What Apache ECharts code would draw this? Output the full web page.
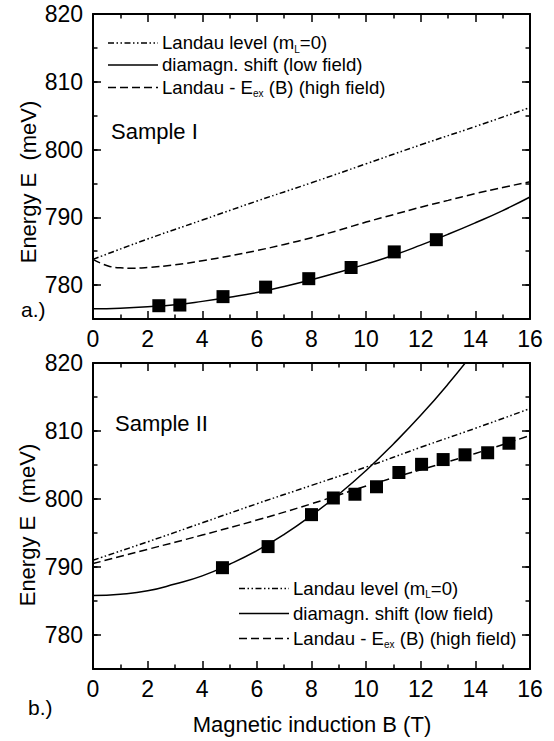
<!DOCTYPE html>
<html><head><meta charset="utf-8">
<script src="https://cdn.jsdelivr.net/npm/echarts@6/dist/echarts.min.js"></script>
<style>html,body{margin:0;padding:0;background:#fff}#c{width:554px;height:741px}</style>
</head><body><div id="c"></div>
<script>
// ---------- data ----------
const bTickLabels = [0, 2, 4, 6, 8, 10, 12, 14, 16];
const energyTickLabels = [780, 790, 800, 810, 820];

// Sample I (panel a)
const s1PointsB = [2.41, 3.18, 4.76, 6.32, 7.90, 9.45, 11.03, 12.57];
const s1PointsE = [776.96, 777.06, 778.3, 779.7, 780.95, 782.6, 784.9, 786.7];
const s1LandauB = [0, 2, 4, 6, 8, 10, 12, 14, 16];
const s1LandauE = [783.8, 786.8, 789.6, 792.4, 795.1, 797.9, 800.7, 803.4, 806.2];
const s1DiamagB = [0, 1, 2, 3, 4, 5, 6, 7, 8, 9, 10, 11, 12, 13, 14, 15, 16];
const s1DiamagE = [776.5, 776.6, 776.8, 777.1, 777.6, 778.2, 778.9, 779.8, 780.8, 781.9, 783.1, 784.4, 785.9, 787.5, 789.2, 791.0, 793.0];
const s1ExcB = [0, 0.5, 1, 1.5, 2, 3, 4, 5, 6, 7, 8, 9, 10, 11, 12, 13, 14, 15, 16];
const s1ExcE = [783.8, 782.9, 782.55, 782.5, 782.6, 783.0, 783.6, 784.3, 785.1, 786.0, 787.0, 788.1, 789.3, 790.4, 791.5, 792.5, 793.5, 794.4, 795.25];

// Sample II (panel b)
const s2PointsB = [4.74, 6.41, 8.0, 8.8, 9.59, 10.38, 11.2, 12.03, 12.82, 13.62, 14.45, 15.23];
const s2PointsE = [789.9, 793.0, 797.7, 800.15, 800.7, 801.8, 803.9, 805.1, 805.8, 806.5, 806.8, 808.2];
const s2LandauB = [0, 2, 4, 6, 8, 10, 12, 14, 16];
const s2LandauE = [791.0, 793.7, 796.5, 799.3, 802.0, 804.7, 807.6, 810.4, 813.3];
const s2DiamagB = [0, 1, 2, 3, 4, 5, 6, 7, 8, 9, 10, 11, 12, 13, 14];
const s2DiamagE = [785.8, 786.0, 786.5, 787.5, 788.7, 790.4, 792.4, 794.8, 797.6, 800.7, 804.2, 808.1, 812.3, 816.9, 821.9];
const s2ExcB = [0, 2, 4, 6, 8, 10, 12, 14, 16];
const s2ExcE = [790.5, 792.6, 794.7, 796.9, 799.3, 801.9, 804.3, 806.7, 809.35];

// ---------- chart ----------
const FONT = '"Liberation Sans", Arial, Helvetica, sans-serif';
const pairs = (xs, ys) => xs.map((x, i) => [x, ys[i]]);
const DASHDOT = [6, 2.5, 1.5, 2.5, 1.5, 2.5];
const DASHED = [8, 4];

function xAxes(gi) {
  const base = {
    gridIndex: gi, type: 'value', min: bTickLabels[0], max: bTickLabels[bTickLabels.length - 1], interval: 2,
    axisLine: { show: true, onZero: false, lineStyle: { color: '#000', width: 2 } },
    axisTick: { show: true, inside: true, length: 8, lineStyle: { color: '#000', width: 1.5 } },
    minorTick: { show: true, splitNumber: 2, length: 4.5, lineStyle: { color: '#000', width: 1.5 } },
    splitLine: { show: false }, minorSplitLine: { show: false }
  };
  return [
    Object.assign({}, base, { position: 'bottom',
      axisLabel: { show: true, margin: 8, color: '#000', fontSize: 23, fontFamily: FONT } }),
    Object.assign({}, base, { position: 'top', axisLabel: { show: false } })
  ];
}
function yAxes(gi) {
  const base = {
    gridIndex: gi, type: 'value', min: 775, max: 820, interval: 5,
    splitLine: { show: false }
  };
  const axes = [];
  ['left', 'right'].forEach(pos => {
    axes.push(Object.assign({}, base, {
      position: pos,
      axisLine: { show: true, onZero: false, lineStyle: { color: '#000', width: 2 } },
      axisTick: { show: true, inside: true, length: 4.5, lineStyle: { color: '#000', width: 1.5 } },
      axisLabel: pos === 'left' ? {
        show: true, margin: 10, color: '#000', fontSize: 23, fontFamily: FONT,
        formatter: v => (energyTickLabels.indexOf(v) >= 0 ? String(v) : '')
      } : { show: false }
    }));
    axes.push(Object.assign({}, base, {
      position: pos,
      axisLine: { show: false, onZero: false },
      axisTick: { show: true, inside: true, length: 8, customValues: energyTickLabels,
                  lineStyle: { color: '#000', width: 1.5 } },
      axisLabel: { show: false }
    }));
  });
  return axes;
}

function lineSeries(name, xi, yi, xs, ys, dash) {
  return {
    name, type: 'line', xAxisIndex: xi, yAxisIndex: yi, data: pairs(xs, ys),
    symbol: 'none', smooth: true, clip: true,
    lineStyle: { color: '#000', width: 1.5, type: dash }
  };
}
function pointSeries(name, xi, yi, xs, ys) {
  return {
    name, type: 'scatter', xAxisIndex: xi, yAxisIndex: yi, data: pairs(xs, ys),
    symbol: 'rect', symbolSize: 13, itemStyle: { color: '#000', opacity: 1 }, z: 5
  };
}

const txt = (text, x, y, size, extra) => ({
  type: 'text', x, y, silent: true,
  style: Object.assign({ text, fill: '#000', fontSize: size, fontFamily: FONT,
    align: 'left', verticalAlign: 'middle' }, extra || {})
});
const rich = {
  a: { fontSize: 18.6, fontFamily: FONT, lineHeight: 20, verticalAlign: 'top', color: '#000' },
  s: { fontSize: 10, fontFamily: FONT, lineHeight: 9, verticalAlign: 'top', padding: [11, 0, 0, 0], color: '#000' }
};
const legendTexts = [
  '{a|Landau level (m}{s|L}{a|=0)}',
  '{a|diamagn. shift (low field)}',
  '{a|Landau - E}{s|ex}{a| (B) (high field)}'
];
const legendDash = [DASHDOT, null, DASHED];
function legendBlock(x1, x2, tx, ys) {
  const els = [];
  ys.forEach((y, i) => {
    els.push({ type: 'line', silent: true, shape: { x1, y1: y, x2, y2: y },
      style: { stroke: '#000', lineWidth: 1.5, lineDash: legendDash[i] } });
    els.push({ type: 'text', x: tx, y: y, silent: true,
      style: { text: legendTexts[i], rich, fill: '#000', fontSize: 18.6, fontFamily: FONT,
        align: 'left', verticalAlign: 'middle' } });
  });
  return els;
}

const option = {
  animation: false,
  backgroundColor: '#fff',
  grid: [
    { left: 93, top: 14, width: 437, height: 305, containLabel: false },
    { left: 93, top: 363, width: 437, height: 306, containLabel: false }
  ],
  xAxis: [...xAxes(0), ...xAxes(1)],
  yAxis: [...yAxes(0), ...yAxes(1)],
  series: [
    lineSeries('Landau level (mL=0) – Sample I', 0, 0, s1LandauB, s1LandauE, DASHDOT),
    lineSeries('diamagn. shift (low field) – Sample I', 0, 0, s1DiamagB, s1DiamagE, 'solid'),
    lineSeries('Landau - Eex (B) (high field) – Sample I', 0, 0, s1ExcB, s1ExcE, DASHED),
    pointSeries('Sample I data', 0, 0, s1PointsB, s1PointsE),
    lineSeries('Landau level (mL=0) – Sample II', 2, 4, s2LandauB, s2LandauE, DASHDOT),
    lineSeries('diamagn. shift (low field) – Sample II', 2, 4, s2DiamagB, s2DiamagE, 'solid'),
    lineSeries('Landau - Eex (B) (high field) – Sample II', 2, 4, s2ExcB, s2ExcE, DASHED),
    pointSeries('Sample II data', 2, 4, s2PointsB, s2PointsE)
  ],
  graphic: [
    ...legendBlock(108, 158, 162, [43, 65, 87.5]),
    ...legendBlock(239, 289, 293, [588.5, 613.5, 638.5]),
    txt('Sample I', 111, 131, 22),
    txt('Sample II', 115, 423, 22),
    txt('a.)', 21, 309, 21),
    txt('b.)', 28, 707, 21),
    { type: 'text', x: 28, y: 182, rotation: Math.PI / 2, silent: true,
      style: { text: 'Energy E  (meV)', fill: '#000', fontSize: 22, fontFamily: FONT, align: 'center', verticalAlign: 'middle' } },
    { type: 'text', x: 27, y: 525, rotation: Math.PI / 2, silent: true,
      style: { text: 'Energy E  (meV)', fill: '#000', fontSize: 22, fontFamily: FONT, align: 'center', verticalAlign: 'middle' } },
    { type: 'text', x: 312, y: 724, silent: true,
      style: { text: 'Magnetic induction B (T)', fill: '#000', fontSize: 22, fontFamily: FONT, align: 'center', verticalAlign: 'middle' } }
  ]
};
const chart = echarts.init(document.getElementById('c'), null, { renderer: 'svg' });
chart.setOption(option);
</script>
</body></html>
